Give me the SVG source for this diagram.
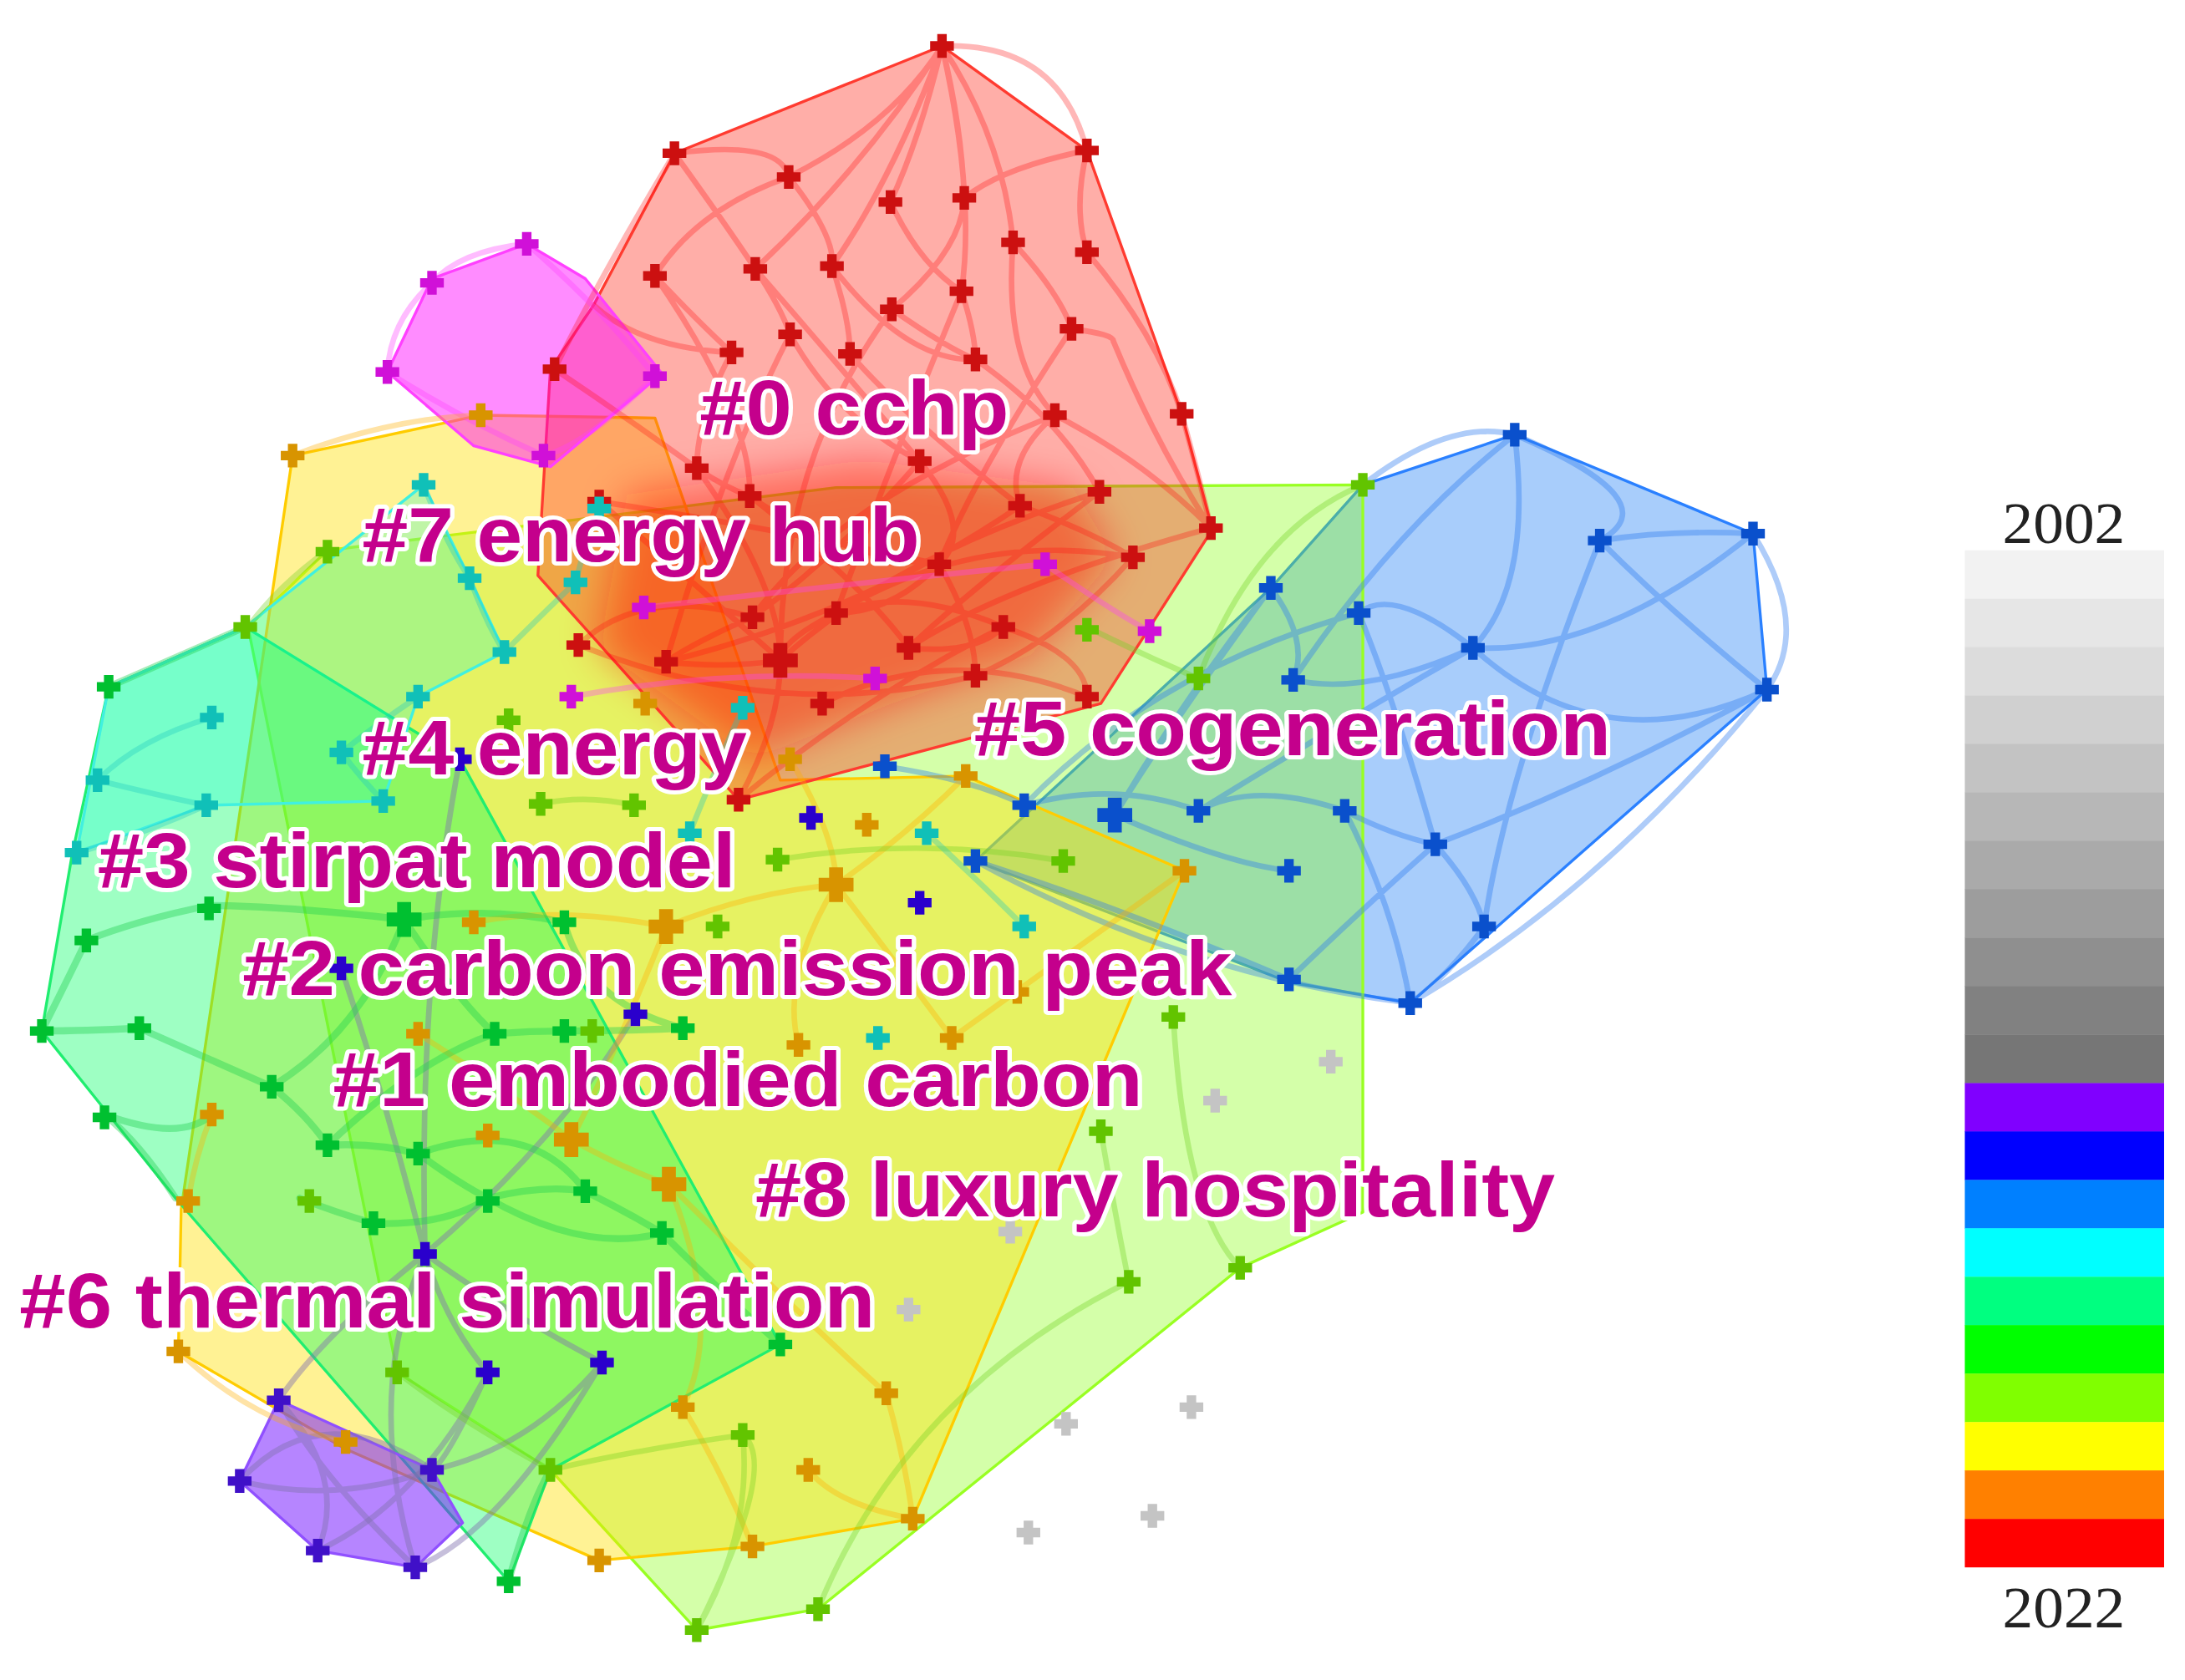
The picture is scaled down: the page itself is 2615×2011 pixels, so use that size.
<svg xmlns="http://www.w3.org/2000/svg" xmlns:xlink="http://www.w3.org/1999/xlink" width="2615" height="2011" viewBox="0 0 2615 2011">
<style>
.hull{stroke-width:2;stroke-linejoin:round}
.h-red{fill:#ff2a1a;fill-opacity:.38;stroke:#ff3b30}
.h-core{fill:#ff1400;fill-opacity:.45;stroke:none}
.h-mag{fill:#ff00ff;fill-opacity:.45;stroke:#ff40ff}
.h-yel{fill:#ffe000;fill-opacity:.42;stroke:#ffcc00}
.h-chr{fill:#88ff10;fill-opacity:.36;stroke:#99ff22}
.h-grn{fill:#00ff60;fill-opacity:.38;stroke:#20ee70}
.h-cya{fill:#00ffe0;fill-opacity:.25;stroke:#40f0e0}
.h-blu{fill:#1a7cf5;fill-opacity:.38;stroke:#2a80ff}
.h-pur{fill:#7a20ff;fill-opacity:.55;stroke:#9050ff}
.lk{fill:none;stroke-linecap:round}
.lr{stroke:#ff1010;stroke-opacity:.3;stroke-width:4}
.lb{stroke:#2a78ee;stroke-opacity:.38;stroke-width:4}
.lg{stroke:#8070b0;stroke-opacity:.45;stroke-width:4}
.ly{stroke:#ffb000;stroke-opacity:.35;stroke-width:4}
.lc{stroke:#70d020;stroke-opacity:.35;stroke-width:4}
.ln{stroke:#20d050;stroke-opacity:.4;stroke-width:5}
.lt{stroke:#20c8c0;stroke-opacity:.35;stroke-width:4}
.lm{stroke:#ff40ff;stroke-opacity:.35;stroke-width:4}
.r{fill:#cc1010}.m{fill:#d010d8}.o{fill:#d89400}.c{fill:#62c400}.g{fill:#00c030}
.t{fill:#10c0b8}.b{fill:#0a50cc}.i{fill:#2a00cc}.p{fill:#4010c8}.z{fill:#c4c4c4}
.lab{font-family:"Liberation Sans",Arial,sans-serif;font-weight:bold;font-size:56px;fill:#c4008c;stroke:#ffffff;stroke-width:6;stroke-linejoin:round;paint-order:stroke}
.yr{font-family:"Liberation Serif","Times New Roman",serif;font-size:42px;fill:#222;text-anchor:middle}
</style>
<defs>
<path id="nd" d="M-3.4-8.5h6.8v5.1h5.1v6.8h-5.1v5.1h-6.8v-5.1h-5.1v-6.8h5.1z"/>
<path id="nb" d="M-5-12.5h10v7.5h7.5v10h-7.5v7.5h-10v-7.5h-7.5v-10h7.5z"/>
<filter id="soft" x="-20%" y="-20%" width="140%" height="140%"><feGaussianBlur stdDeviation="14"/></filter>
</defs>
<rect width="2615" height="2011" fill="#ffffff"/>
<g transform="scale(1.66773)">
<g id="hulls">
<polygon id="hull-5" class="hull h-blu" points="1087,312 1258,383 1268,495 1012,720 925,705 700,618 912,422 978,348"/>
<polygon id="hull-8" class="hull h-chr" points="978,348 978,870 890,910 587,1155 500,1170 395,1055 285,985 178,450 235,395 600,350"/>
<polygon id="hull-1" class="hull h-yel" points="210,327 345,298 470,300 560,560 693,557 850,625 655,1090 540,1110 430,1120 248,1040 128,970 130,868"/>
<polygon id="hull-3" class="hull h-grn" points="78,493 176,450 330,545 560,965 395,1055 365,1135 126,860 30,740 52,612"/>
<polygon id="hull-4" class="hull h-cya" points="78,493 176,450 304,348 337,415 362,468 300,500 275,575 148,578 55,612"/>
<polygon id="hull-0" class="hull h-red" points="676,33 780,108 848,297 870,380 790,505 530,574 386,413 395,265 426,219 484,110"/>
<polygon class="h-core" filter="url(#soft)" points="450,355 620,330 770,350 800,400 740,470 640,505 540,545 430,465"/>
<polygon id="hull-7" class="hull h-mag" points="310,200 378,175 420,200 475,268 395,335 340,320 278,267"/>
<polygon id="hull-6" class="hull h-pur" points="200,1005 172,1063 228,1113 298,1125 332,1093 310,1055"/>
</g>
<g id="connectors">
<path class="lk lr" d="M676 33Q640 90 566 127M676 33Q660 100 639 145M676 33Q690 90 692 142M676 33Q720 100 727 174M676 33Q620 120 542 193M676 33Q640 130 597 191M676 33Q700 140 690 209M676 33Q760 30 780 108M484 110Q520 160 542 193M484 110Q560 100 566 127M566 127Q600 170 597 191M566 127Q500 150 470 198M780 108Q770 150 780 181M780 108Q720 120 692 142M780 181Q830 240 848 297M727 174Q760 210 769 236M639 145Q660 190 690 209M692 142Q690 180 640 222M470 198Q500 230 525 253M542 193Q560 220 567 240M597 191Q610 230 610 254M690 209Q700 240 700 258M640 222Q680 250 700 258M769 236Q800 240 799 245M567 240Q600 300 660 331M610 254Q650 300 732 363M700 258Q760 300 789 353M799 245Q830 320 869 379M757 298Q820 330 869 379M525 253Q500 300 500 336M500 336Q520 350 538 356M538 356Q600 400 674 405M660 331Q700 380 674 405M732 363Q780 380 813 400M674 405Q640 440 600 440M600 440Q560 460 560 474M478 475Q520 480 560 474M540 443Q500 460 478 475M415 463Q460 420 540 443M652 465Q700 470 720 450M720 450Q780 470 780 500M560 474Q560 520 530 574M600 440Q650 420 720 450M426 219Q460 250 525 253M398 265Q450 300 500 336M848 297Q860 340 869 379M757 298Q720 330 732 363M597 191Q650 260 700 258M542 193Q600 260 660 331M470 198Q540 300 538 356M727 174Q720 260 757 298M500 336Q560 420 560 474M538 356Q620 420 652 465M660 331Q600 400 540 443M789 353Q700 420 652 465M813 400Q760 460 700 485M674 405Q700 450 700 485M484 110Q430 200 398 265M567 240Q520 330 478 475M640 222Q560 330 560 474M690 209Q640 330 600 440M769 236Q700 340 674 405M430 360Q500 420 560 474M430 360Q560 380 674 405M415 463Q560 520 700 485M478 475Q620 440 732 363M540 443Q600 360 757 298M560 474Q640 400 789 353M600 440Q700 380 813 400M652 465Q720 420 869 379M530 574Q620 500 720 450M590 505Q680 460 780 500"/>
<path class="lk lm" d="M378 175Q330 180 310 203M310 203Q280 230 278 267M378 175Q430 220 470 270M278 267Q330 300 390 327M470 270Q420 320 390 327M462 436Q600 420 750 405M750 405Q800 440 825 453M410 500Q520 480 628 487"/>
<path class="lk lb" d="M1087 312Q1100 420 1057 465M1087 312Q1200 360 1148 388M1148 388Q1200 440 1268 495M1258 383Q1200 380 1148 388M1057 465Q1150 470 1258 383M1057 465Q1150 550 1268 495M1057 465Q1000 420 975 440M1057 465Q980 500 928 488M975 440Q1000 500 1030 606M1030 606Q1060 640 1065 665M1065 665Q1040 700 1012 720M925 703Q980 650 1030 606M965 582Q1000 600 1030 606M860 582Q900 560 965 582M800 585Q880 620 925 625M735 578Q800 560 860 582M700 618Q800 650 925 703M912 422Q940 460 928 488M978 348Q1040 300 1087 312M912 422Q850 500 800 585M1087 312Q1000 380 928 488M1030 606Q1150 560 1268 495M965 582Q1000 650 1012 720M700 618Q850 700 1012 720M635 550Q700 560 735 578M1258 383Q1300 450 1268 495M1148 388Q1080 560 1065 665M1012 720Q1150 640 1268 495M800 585Q840 520 912 422M735 578Q830 480 975 440M860 582Q960 520 1057 465"/>
<path class="lk lg" d="M305 900Q320 950 350 985M305 900Q360 940 432 978M305 900Q260 1000 298 1125M330 545Q300 700 305 900M350 985Q320 1050 310 1055M432 978Q380 1040 310 1055M245 695Q280 800 305 900M456 728Q400 820 305 900M305 900Q230 960 200 1005M432 978Q360 1100 298 1125M350 985Q300 1080 228 1113"/>
<path class="lk lg" d="M200 1005Q230 1060 298 1125M172 1063Q240 1080 310 1055M228 1113Q250 1060 200 1005M172 1063Q230 1000 310 1055"/>
<path class="lk ly" d="M600 635Q560 700 573 750M600 635Q650 700 683 745M478 665Q440 760 410 818M410 818Q450 840 480 850M480 850Q520 950 490 1010M480 850Q580 950 636 1000M600 635Q540 640 478 665M345 298Q280 300 210 327M567 545Q600 600 600 635M693 557Q650 600 600 635M340 662Q400 650 478 665M300 742Q360 780 410 818M152 800Q140 830 135 862M128 970Q180 1020 248 1035M490 1010Q520 1060 540 1110M636 1000Q650 1050 655 1090M580 1055Q600 1080 655 1090M850 625Q760 690 683 745"/>
<path class="lk lc" d="M587 1155Q650 1000 810 920M500 1170Q560 1050 533 1030M890 910Q850 870 842 730M978 348Q900 380 860 487M780 450Q820 470 860 487M388 577Q420 570 455 578M558 617Q660 600 763 618M235 395Q200 420 178 450M395 1055Q460 1040 533 1030M285 985Q330 1020 395 1055M790 812Q800 870 810 920M500 1170Q540 1100 533 1030"/>
<path class="lk ln" d="M78 493Q130 470 176 450M30 740Q50 700 62 675M62 675Q100 660 150 650M100 738Q150 760 195 780M75 800Q130 820 152 800M290 660Q350 650 405 662M355 742Q380 740 405 740M405 740Q450 740 490 738M235 822Q270 820 300 828M300 828Q330 850 350 860M350 860Q390 850 420 855M420 855Q450 870 475 885M215 860Q240 870 268 878M30 740Q60 740 100 738M150 650Q200 650 290 660M195 780Q220 800 235 822M268 878Q320 880 350 860M475 885Q520 930 560 965M365 1135Q380 1080 395 1055M126 860Q100 820 75 800M290 660Q330 720 355 742M405 662Q420 720 490 738M235 822Q300 760 355 742M300 828Q380 800 420 855M195 780Q260 740 290 660M350 860Q420 900 475 885"/>
<path class="lk lt" d="M304 348Q320 390 337 415M337 415Q350 450 362 468M362 468Q390 440 413 418M300 500Q270 520 245 540M245 540Q260 560 275 575M152 515Q100 530 70 560M70 560Q110 570 148 578M55 612Q100 600 148 578M413 418Q420 390 430 365M533 508Q510 560 495 598M665 598Q700 630 735 665"/>
</g>
<g id="nodes">
<g id="nodes-0">
<use xlink:href="#nd" class="r" x="676" y="33"/><use xlink:href="#nd" class="r" x="484" y="110"/><use xlink:href="#nd" class="r" x="780" y="108"/><use xlink:href="#nd" class="r" x="566" y="127"/><use xlink:href="#nd" class="r" x="639" y="145"/><use xlink:href="#nd" class="r" x="692" y="142"/><use xlink:href="#nd" class="r" x="727" y="174"/><use xlink:href="#nd" class="r" x="780" y="181"/><use xlink:href="#nd" class="r" x="470" y="198"/><use xlink:href="#nd" class="r" x="542" y="193"/><use xlink:href="#nd" class="r" x="597" y="191"/><use xlink:href="#nd" class="r" x="690" y="209"/><use xlink:href="#nd" class="r" x="640" y="222"/><use xlink:href="#nd" class="r" x="769" y="236"/><use xlink:href="#nd" class="r" x="567" y="240"/><use xlink:href="#nd" class="r" x="525" y="253"/><use xlink:href="#nd" class="r" x="610" y="254"/><use xlink:href="#nd" class="r" x="700" y="258"/><use xlink:href="#nd" class="r" x="398" y="265"/><use xlink:href="#nd" class="r" x="848" y="297"/><use xlink:href="#nd" class="r" x="757" y="298"/><use xlink:href="#nd" class="r" x="500" y="336"/><use xlink:href="#nd" class="r" x="538" y="356"/><use xlink:href="#nd" class="r" x="660" y="331"/><use xlink:href="#nd" class="r" x="732" y="363"/><use xlink:href="#nd" class="r" x="789" y="353"/><use xlink:href="#nd" class="r" x="813" y="400"/><use xlink:href="#nd" class="r" x="869" y="379"/><use xlink:href="#nd" class="r" x="674" y="405"/><use xlink:href="#nd" class="r" x="415" y="463"/><use xlink:href="#nd" class="r" x="478" y="475"/><use xlink:href="#nb" class="r" x="560" y="474"/><use xlink:href="#nd" class="r" x="540" y="443"/><use xlink:href="#nd" class="r" x="530" y="574"/><use xlink:href="#nd" class="r" x="600" y="440"/><use xlink:href="#nd" class="r" x="652" y="465"/><use xlink:href="#nd" class="r" x="720" y="450"/><use xlink:href="#nd" class="r" x="780" y="500"/><use xlink:href="#nd" class="r" x="700" y="485"/><use xlink:href="#nd" class="r" x="590" y="505"/><use xlink:href="#nd" class="r" x="430" y="360"/>
</g>
<g id="nodes-7">
<use xlink:href="#nd" class="m" x="378" y="175"/><use xlink:href="#nd" class="m" x="310" y="203"/><use xlink:href="#nd" class="m" x="278" y="267"/><use xlink:href="#nd" class="m" x="470" y="270"/><use xlink:href="#nd" class="m" x="390" y="327"/><use xlink:href="#nd" class="m" x="462" y="436"/><use xlink:href="#nd" class="m" x="410" y="500"/><use xlink:href="#nd" class="m" x="628" y="487"/><use xlink:href="#nd" class="m" x="750" y="405"/><use xlink:href="#nd" class="m" x="825" y="453"/>
</g>
<g id="nodes-1">
<use xlink:href="#nd" class="o" x="345" y="298"/><use xlink:href="#nd" class="o" x="210" y="327"/><use xlink:href="#nd" class="o" x="463" y="505"/><use xlink:href="#nd" class="o" x="567" y="545"/><use xlink:href="#nd" class="o" x="693" y="557"/><use xlink:href="#nd" class="o" x="622" y="592"/><use xlink:href="#nb" class="o" x="600" y="635"/><use xlink:href="#nb" class="o" x="478" y="665"/><use xlink:href="#nd" class="o" x="340" y="662"/><use xlink:href="#nd" class="o" x="850" y="625"/><use xlink:href="#nd" class="o" x="683" y="745"/><use xlink:href="#nd" class="o" x="573" y="750"/><use xlink:href="#nd" class="o" x="300" y="742"/><use xlink:href="#nd" class="o" x="152" y="800"/><use xlink:href="#nd" class="o" x="350" y="815"/><use xlink:href="#nb" class="o" x="410" y="818"/><use xlink:href="#nb" class="o" x="480" y="850"/><use xlink:href="#nd" class="o" x="135" y="862"/><use xlink:href="#nd" class="o" x="128" y="970"/><use xlink:href="#nd" class="o" x="248" y="1035"/><use xlink:href="#nd" class="o" x="490" y="1010"/><use xlink:href="#nd" class="o" x="636" y="1000"/><use xlink:href="#nd" class="o" x="580" y="1055"/><use xlink:href="#nd" class="o" x="430" y="1120"/><use xlink:href="#nd" class="o" x="540" y="1110"/><use xlink:href="#nd" class="o" x="655" y="1090"/><use xlink:href="#nd" class="o" x="730" y="712"/>
</g>
<g id="nodes-8">
<use xlink:href="#nd" class="c" x="978" y="348"/><use xlink:href="#nd" class="c" x="235" y="396"/><use xlink:href="#nd" class="c" x="176" y="450"/><use xlink:href="#nd" class="c" x="780" y="452"/><use xlink:href="#nd" class="c" x="860" y="487"/><use xlink:href="#nd" class="c" x="388" y="577"/><use xlink:href="#nd" class="c" x="455" y="578"/><use xlink:href="#nd" class="c" x="558" y="617"/><use xlink:href="#nd" class="c" x="763" y="618"/><use xlink:href="#nd" class="c" x="515" y="665"/><use xlink:href="#nd" class="c" x="842" y="730"/><use xlink:href="#nd" class="c" x="790" y="812"/><use xlink:href="#nd" class="c" x="810" y="920"/><use xlink:href="#nd" class="c" x="890" y="910"/><use xlink:href="#nd" class="c" x="500" y="1170"/><use xlink:href="#nd" class="c" x="587" y="1155"/><use xlink:href="#nd" class="c" x="395" y="1055"/><use xlink:href="#nd" class="c" x="533" y="1030"/><use xlink:href="#nd" class="c" x="285" y="985"/><use xlink:href="#nd" class="c" x="222" y="862"/><use xlink:href="#nd" class="c" x="425" y="740"/><use xlink:href="#nd" class="c" x="365" y="517"/>
</g>
<g id="nodes-3">
<use xlink:href="#nd" class="g" x="78" y="493"/><use xlink:href="#nd" class="g" x="62" y="675"/><use xlink:href="#nd" class="g" x="30" y="740"/><use xlink:href="#nd" class="g" x="100" y="738"/><use xlink:href="#nd" class="g" x="75" y="802"/><use xlink:href="#nd" class="g" x="150" y="652"/><use xlink:href="#nd" class="g" x="195" y="780"/><use xlink:href="#nb" class="g" x="290" y="660"/><use xlink:href="#nd" class="g" x="405" y="662"/><use xlink:href="#nd" class="g" x="355" y="742"/><use xlink:href="#nd" class="g" x="405" y="740"/><use xlink:href="#nd" class="g" x="490" y="738"/><use xlink:href="#nd" class="g" x="235" y="822"/><use xlink:href="#nd" class="g" x="300" y="828"/><use xlink:href="#nd" class="g" x="350" y="862"/><use xlink:href="#nd" class="g" x="420" y="855"/><use xlink:href="#nd" class="g" x="475" y="885"/><use xlink:href="#nd" class="g" x="268" y="878"/><use xlink:href="#nd" class="g" x="560" y="965"/><use xlink:href="#nd" class="g" x="365" y="1135"/>
</g>
<g id="nodes-4">
<use xlink:href="#nd" class="t" x="304" y="348"/><use xlink:href="#nd" class="t" x="337" y="415"/><use xlink:href="#nd" class="t" x="362" y="468"/><use xlink:href="#nd" class="t" x="413" y="418"/><use xlink:href="#nd" class="t" x="430" y="365"/><use xlink:href="#nd" class="t" x="300" y="500"/><use xlink:href="#nd" class="t" x="245" y="540"/><use xlink:href="#nd" class="t" x="275" y="575"/><use xlink:href="#nd" class="t" x="152" y="515"/><use xlink:href="#nd" class="t" x="70" y="560"/><use xlink:href="#nd" class="t" x="148" y="578"/><use xlink:href="#nd" class="t" x="55" y="612"/><use xlink:href="#nd" class="t" x="533" y="508"/><use xlink:href="#nd" class="t" x="495" y="598"/><use xlink:href="#nd" class="t" x="665" y="598"/><use xlink:href="#nd" class="t" x="735" y="665"/><use xlink:href="#nd" class="t" x="630" y="745"/>
</g>
<g id="nodes-5">
<use xlink:href="#nd" class="b" x="1087" y="312"/><use xlink:href="#nd" class="b" x="1148" y="388"/><use xlink:href="#nd" class="b" x="1258" y="383"/><use xlink:href="#nd" class="b" x="1268" y="495"/><use xlink:href="#nd" class="b" x="1057" y="465"/><use xlink:href="#nd" class="b" x="975" y="440"/><use xlink:href="#nd" class="b" x="912" y="422"/><use xlink:href="#nd" class="b" x="928" y="488"/><use xlink:href="#nd" class="b" x="1030" y="606"/><use xlink:href="#nd" class="b" x="1065" y="665"/><use xlink:href="#nd" class="b" x="1012" y="720"/><use xlink:href="#nd" class="b" x="925" y="703"/><use xlink:href="#nd" class="b" x="925" y="625"/><use xlink:href="#nd" class="b" x="965" y="582"/><use xlink:href="#nd" class="b" x="860" y="582"/><use xlink:href="#nb" class="b" x="800" y="585"/><use xlink:href="#nd" class="b" x="735" y="578"/><use xlink:href="#nd" class="b" x="700" y="618"/><use xlink:href="#nd" class="b" x="635" y="550"/>
</g>
<g id="nodes-6">
<use xlink:href="#nd" class="i" x="582" y="587"/><use xlink:href="#nd" class="i" x="660" y="648"/><use xlink:href="#nd" class="i" x="456" y="728"/><use xlink:href="#nd" class="i" x="330" y="545"/><use xlink:href="#nd" class="i" x="245" y="695"/><use xlink:href="#nd" class="i" x="305" y="900"/><use xlink:href="#nd" class="i" x="350" y="985"/><use xlink:href="#nd" class="i" x="432" y="978"/><use xlink:href="#nd" class="p" x="200" y="1005"/><use xlink:href="#nd" class="p" x="172" y="1063"/><use xlink:href="#nd" class="p" x="228" y="1113"/><use xlink:href="#nd" class="p" x="298" y="1125"/><use xlink:href="#nd" class="p" x="310" y="1055"/>
</g>
<g id="nodes-old">
<use xlink:href="#nd" class="z" x="955" y="762"/><use xlink:href="#nd" class="z" x="872" y="790"/><use xlink:href="#nd" class="z" x="725" y="884"/><use xlink:href="#nd" class="z" x="652" y="940"/><use xlink:href="#nd" class="z" x="765" y="1022"/><use xlink:href="#nd" class="z" x="855" y="1010"/><use xlink:href="#nd" class="z" x="738" y="1100"/><use xlink:href="#nd" class="z" x="827" y="1088"/>
</g>
</g>
<g id="labels">
<text id="label-0" class="lab" x="502" y="312" textLength="222" lengthAdjust="spacingAndGlyphs">#0 cchp</text>
<text id="label-7" class="lab" x="260" y="403" textLength="400" lengthAdjust="spacingAndGlyphs">#7 energy hub</text>
<text id="label-4" class="lab" x="260" y="556" textLength="276" lengthAdjust="spacingAndGlyphs">#4 energy</text>
<text id="label-5" class="lab" x="699" y="542" textLength="457" lengthAdjust="spacingAndGlyphs">#5 cogeneration</text>
<text id="label-3" class="lab" x="70" y="637" textLength="458" lengthAdjust="spacingAndGlyphs">#3 stirpat model</text>
<text id="label-2" class="lab" x="174" y="714" textLength="710" lengthAdjust="spacingAndGlyphs">#2 carbon emission peak</text>
<text id="label-1" class="lab" x="239" y="794" textLength="581" lengthAdjust="spacingAndGlyphs">#1 embodied carbon</text>
<text id="label-8" class="lab" x="542" y="873" textLength="574" lengthAdjust="spacingAndGlyphs">#8 luxury hospitality</text>
<text id="label-6" class="lab" x="14" y="953" textLength="614" lengthAdjust="spacingAndGlyphs">#6 thermal simulation</text>
</g>
<g id="legend">
<rect x="1410" y="395" width="143" height="35" fill="#f2f2f2"/>
<rect x="1410" y="429.8" width="143" height="35" fill="#e6e6e6"/>
<rect x="1410" y="464.5" width="143" height="35" fill="#dcdcdc"/>
<rect x="1410" y="499.3" width="143" height="35" fill="#d0d0d0"/>
<rect x="1410" y="534" width="143" height="35" fill="#c3c3c3"/>
<rect x="1410" y="568.8" width="143" height="35" fill="#b7b7b7"/>
<rect x="1410" y="603.6" width="143" height="35" fill="#aaaaaa"/>
<rect x="1410" y="638.3" width="143" height="35" fill="#9d9d9d"/>
<rect x="1410" y="673.1" width="143" height="35" fill="#8f8f8f"/>
<rect x="1410" y="707.8" width="143" height="35" fill="#818181"/>
<rect x="1410" y="742.6" width="143" height="35" fill="#767676"/>
<rect x="1410" y="777.4" width="143" height="35" fill="#8000ff"/>
<rect x="1410" y="812.1" width="143" height="35" fill="#0000ff"/>
<rect x="1410" y="846.9" width="143" height="35" fill="#0080ff"/>
<rect x="1410" y="881.6" width="143" height="35" fill="#00ffff"/>
<rect x="1410" y="916.4" width="143" height="35" fill="#00ff80"/>
<rect x="1410" y="951.1" width="143" height="35" fill="#00ff00"/>
<rect x="1410" y="985.9" width="143" height="35" fill="#80ff00"/>
<rect x="1410" y="1020.7" width="143" height="35" fill="#ffff00"/>
<rect x="1410" y="1055.4" width="143" height="35" fill="#ff8000"/>
<rect x="1410" y="1090.2" width="143" height="34.8" fill="#ff0000"/>
<text class="yr" x="1481" y="390" textLength="88" lengthAdjust="spacingAndGlyphs">2002</text>
<text class="yr" x="1481" y="1168" textLength="88" lengthAdjust="spacingAndGlyphs">2022</text>
</g>
</g>
</svg>
